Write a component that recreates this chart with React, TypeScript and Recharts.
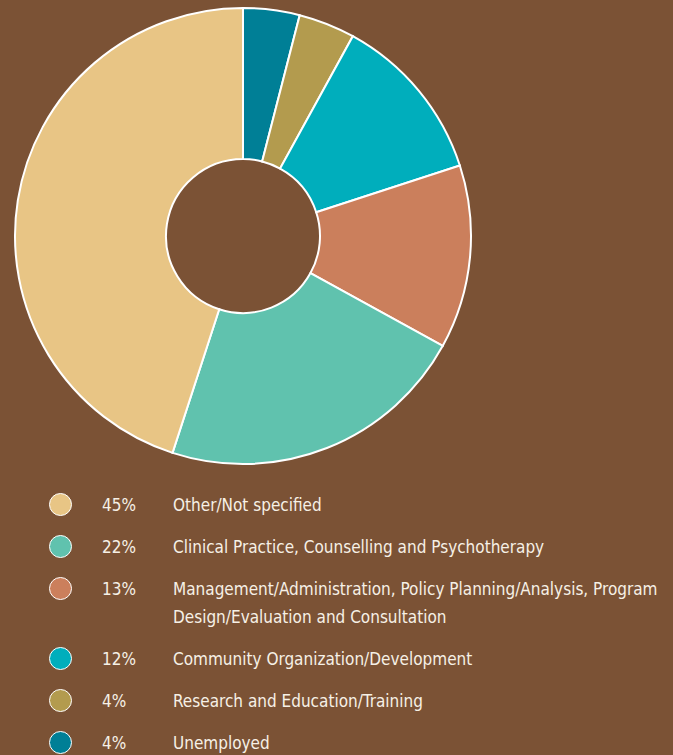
import React from "react";
import { PieChart, Pie, Cell } from "recharts";

// clockwise from 12 o'clock
const categories = [
  "Unemployed",
  "Research and Education/Training",
  "Community Organization/Development",
  "Management/Administration, Policy Planning/Analysis, Program Design/Evaluation and Consultation",
  "Clinical Practice, Counselling and Psychotherapy",
  "Other/Not specified",
];
const shares = [4, 4, 12, 13, 22, 45];
const colors = ["#007F96", "#B39B4E", "#00AEBC", "#CB7F5C", "#60C2AE", "#E8C585"];

const data = categories.map((name, i) => ({ name, value: shares[i] }));

const BG = "#7B5235";
const TEXT = "#F6F0E6";

const LegendBox = () => {
  // legend lists largest first
  const rows = data.map((d, i) => ({ ...d, color: colors[i] })).reverse();
  return (
    <div style={{ display: "flex", flexDirection: "column", gap: 14 }}>
      {rows.map((r) => (
        <div key={r.name} style={{ display: "flex", alignItems: "flex-start", lineHeight: "28px" }}>
          <div
            style={{
              width: 21,
              height: 21,
              marginTop: 2,
              marginLeft: 49,
              borderRadius: "50%",
              background: r.color,
              border: "1.5px solid #fff",
              flexShrink: 0,
            }}
          />
          <div style={{ width: 71, marginLeft: 30, flexShrink: 0 }}>{r.value}%</div>
          <div style={{ width: 490 }}>{r.name}</div>
        </div>
      ))}
    </div>
  );
};

export default function App() {
  return (
    <div
      style={{
        position: "absolute",
        top: 0,
        left: 0,
        width: 673,
        height: 755,
        background: BG,
        overflow: "hidden",
        fontFamily: "'Liberation Sans Narrow', 'DejaVu Sans Condensed', 'Roboto Condensed', sans-serif",
        fontSize: 17,
        color: TEXT,
      }}
    >
      <PieChart width={673} height={480} margin={{ top: 0, right: 0, bottom: 0, left: 0 }}>
        <Pie
          data={data}
          dataKey="value"
          nameKey="name"
          cx={243}
          cy={236}
          outerRadius={228}
          innerRadius={77}
          startAngle={90}
          endAngle={-270}
          stroke="#ffffff"
          strokeWidth={2}
          isAnimationActive={false}
        >
          {data.map((d, i) => (
            <Cell key={d.name} fill={colors[i]} />
          ))}
        </Pie>
      </PieChart>
      <div style={{ position: "absolute", top: 491, left: 0, width: 673 }}>
        <LegendBox />
      </div>
    </div>
  );
}
